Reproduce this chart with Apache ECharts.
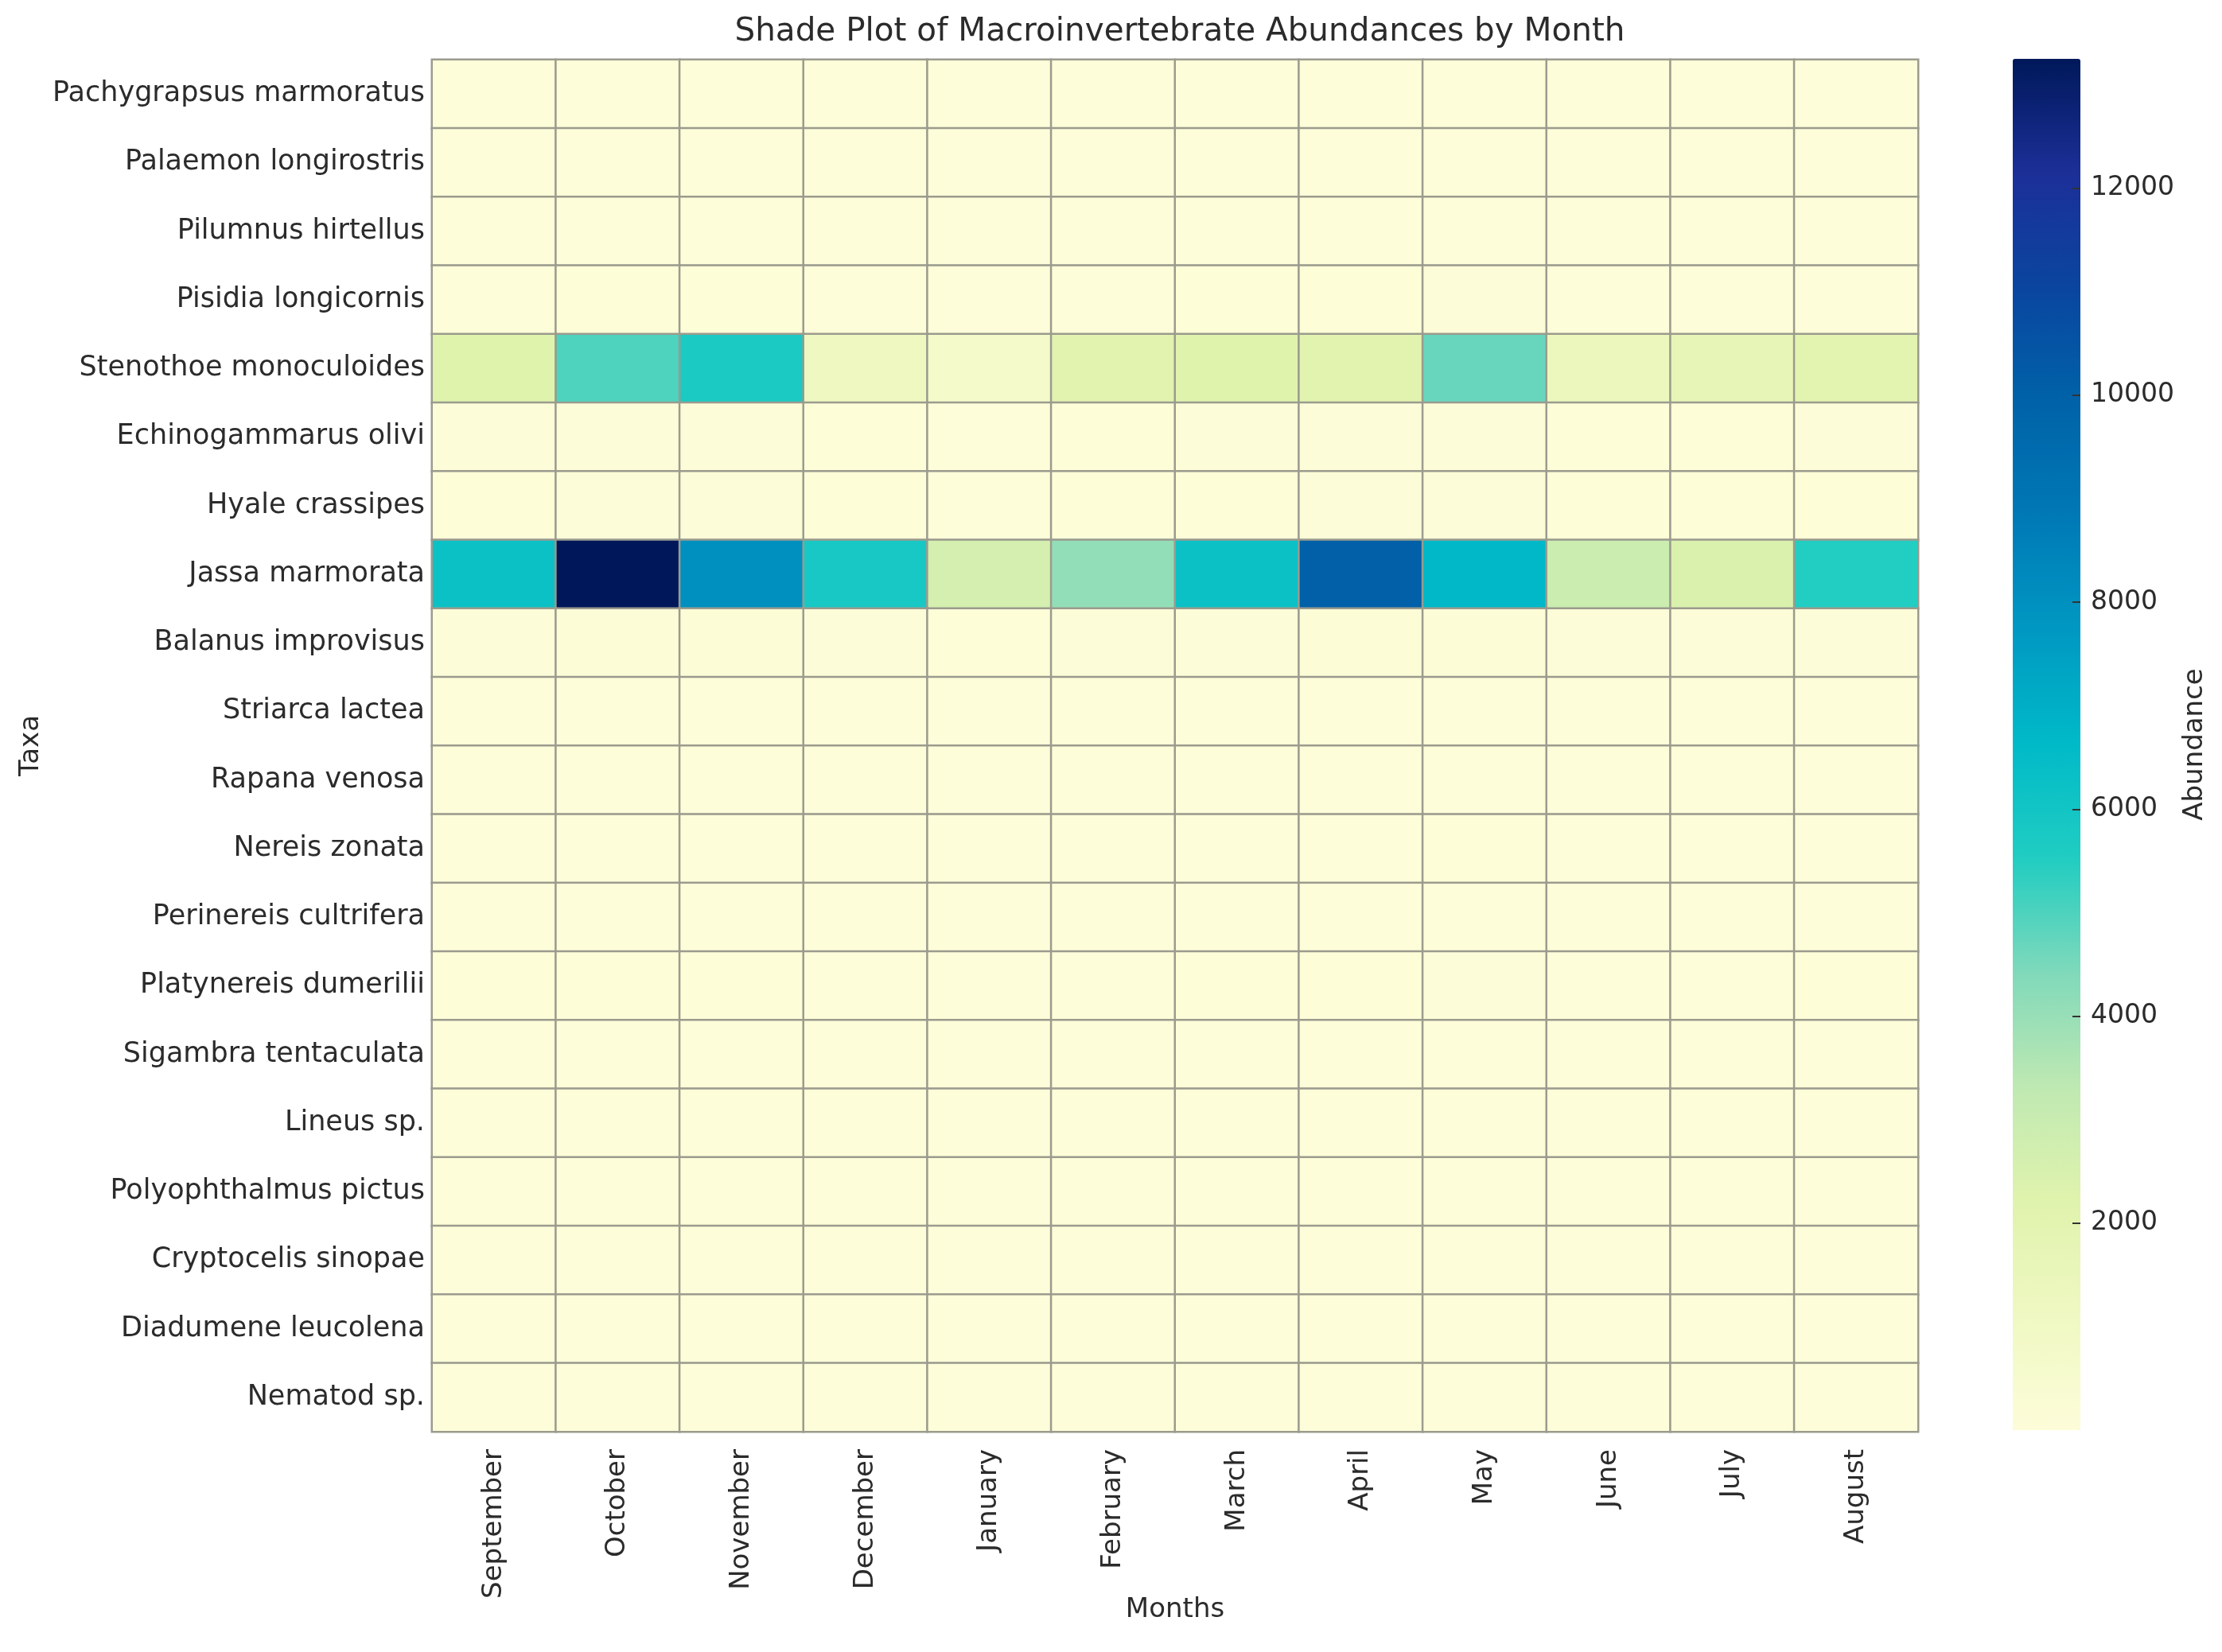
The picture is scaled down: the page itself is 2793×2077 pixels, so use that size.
<!DOCTYPE html>
<html>
<head>
<meta charset="utf-8">
<script src="https://cdn.jsdelivr.net/npm/echarts@6/dist/echarts.min.js"></script>
<style>
html,body{margin:0;padding:0;background:#fff;}
#chart{width:2793px;height:2077px;}
</style>
</head>
<body>
<div id="chart"></div>
<script>
const months = ['September','October','November','December','January','February','March','April','May','June','July','August'];
const taxa = ['Pachygrapsus marmoratus','Palaemon longirostris','Pilumnus hirtellus','Pisidia longicornis','Stenothoe monoculoides','Echinogammarus olivi','Hyale crassipes','Jassa marmorata','Balanus improvisus','Striarca lactea','Rapana venosa','Nereis zonata','Perinereis cultrifera','Platynereis dumerilii','Sigambra tentaculata','Lineus sp.','Polyophthalmus pictus','Cryptocelis sinopae','Diadumene leucolena','Nematod sp.'];

// abundance per taxon, Sept..Aug
const pachygrapsus   = [2, 3, 1, 2, 1, 2, 3, 2, 4, 2, 3, 2];
const palaemon       = [5, 8, 4, 3, 2, 6, 5, 7, 9, 4, 6, 5];
const pilumnus       = [12, 18, 15, 9, 6, 10, 14, 16, 20, 11, 9, 13];
const pisidia        = [20, 35, 28, 15, 10, 18, 25, 30, 40, 22, 19, 24];
const stenothoe      = [2200, 5000, 5700, 1200, 700, 2100, 2250, 2100, 4700, 1400, 1700, 2000];
const echinogammarus = [40, 60, 55, 30, 20, 35, 45, 50, 70, 38, 30, 42];
const hyale          = [30, 50, 45, 25, 15, 28, 35, 40, 55, 30, 26, 33];
const jassa          = [6200, 13250, 8000, 5800, 2600, 4100, 6200, 10000, 6700, 2900, 2400, 5500];
const balanus        = [60, 90, 80, 50, 35, 55, 70, 85, 100, 65, 50, 60];
const striarca       = [8, 12, 10, 6, 4, 7, 9, 11, 14, 8, 6, 9];
const rapana         = [3, 4, 2, 1, 1, 2, 3, 3, 5, 2, 2, 3];
const nereis         = [15, 22, 18, 12, 8, 14, 17, 20, 25, 15, 12, 16];
const perinereis     = [10, 14, 12, 8, 5, 9, 11, 13, 16, 10, 8, 11];
const platynereis    = [25, 38, 30, 18, 12, 22, 28, 34, 42, 24, 20, 26];
const sigambra       = [6, 9, 7, 4, 3, 5, 6, 8, 10, 6, 5, 6];
const lineus         = [4, 6, 5, 3, 2, 4, 5, 5, 7, 4, 3, 4];
const polyophthalmus = [9, 13, 11, 7, 5, 8, 10, 12, 15, 9, 7, 10];
const cryptocelis    = [3, 5, 4, 2, 2, 3, 4, 4, 6, 3, 3, 3];
const diadumene      = [7, 10, 8, 5, 3, 6, 8, 9, 12, 7, 5, 7];
const nematod        = [11, 16, 13, 9, 6, 10, 12, 14, 18, 11, 9, 12];

const colorbarTicks = [2000, 4000, 6000, 8000, 10000, 12000];
const vMin = 0, vMax = 13250;

const rows = [pachygrapsus, palaemon, pilumnus, pisidia, stenothoe, echinogammarus, hyale, jassa, balanus, striarca, rapana, nereis, perinereis, platynereis, sigambra, lineus, polyophthalmus, cryptocelis, diadumene, nematod];

const data = [];
rows.forEach((row, yi) => row.forEach((v, xi) => data.push([xi, yi, v])));

const FONT = 'DejaVu Sans';
const TXT = '#2b2b2b';

const chart = echarts.init(document.getElementById('chart'));
chart.setOption({
  animation: false,
  backgroundColor: '#ffffff',
  textStyle: { fontFamily: FONT },
  title: {
    text: 'Shade Plot of Macroinvertebrate Abundances by Month',
    left: 1478, top: 15, textAlign: 'center',
    textStyle: { fontFamily: FONT, fontSize: 40.5, fontWeight: 'normal', color: TXT }
  },
  grid: [
    { left: 543, top: 75, width: 1868, height: 1725, containLabel: false },
    { left: 2530, top: 74, width: 85, height: 1724, containLabel: false }
  ],
  xAxis: [
    {
      type: 'category', data: months, gridIndex: 0, position: 'bottom',
      axisLine: { show: false },
      axisTick: { show: true, inside: true, alignWithLabel: true, length: 10, lineStyle: { color: '#333', width: 2 } },
      axisLabel: { rotate: 90, margin: 22, fontSize: 34, color: TXT, fontFamily: FONT, interval: 0 },
      splitLine: { show: false },
      name: 'Months', nameLocation: 'middle', nameGap: 207, nameMoveOverlap: false,
      nameTextStyle: { fontSize: 34, color: TXT, fontFamily: FONT }
    },
    { type: 'value', gridIndex: 1, show: false, min: 0, max: 1 }
  ],
  yAxis: [
    {
      type: 'category', data: taxa, gridIndex: 0, inverse: true,
      axisLine: { show: false },
      axisTick: { show: true, inside: true, alignWithLabel: true, length: 10, lineStyle: { color: '#333', width: 2 } },
      axisLabel: { margin: 9, fontSize: 35, color: TXT, fontFamily: FONT, interval: 0 },
      splitLine: { show: false },
      name: 'Taxa', nameLocation: 'middle', nameGap: 487, nameMoveOverlap: false,
      nameTextStyle: { fontSize: 34, color: TXT, fontFamily: FONT }
    },
    {
      type: 'value', gridIndex: 1, position: 'right', min: vMin, max: vMax, interval: 2000, z: 20,
      axisLine: { show: false, onZero: false },
      axisTick: { show: true, inside: true, length: 10, lineStyle: { color: '#333', width: 2 } },
      axisLabel: {
        margin: 13, fontSize: 33, color: TXT, fontFamily: FONT, showMinLabel: false, showMaxLabel: false,
        formatter: v => colorbarTicks.indexOf(v) >= 0 ? String(v) : ''
      },
      splitLine: { show: false },
      name: 'Abundance', nameLocation: 'middle', nameGap: 127, nameMoveOverlap: false,
      nameTextStyle: { fontSize: 34, color: TXT, fontFamily: FONT }
    }
  ],
  visualMap: {
    type: 'continuous', min: vMin, max: vMax, dimension: 2, seriesIndex: 0,
    calculable: false, orient: 'vertical', left: 2530, top: 74, z: 2,
    itemWidth: 85, itemHeight: 1724, padding: 0, text: null, showLabel: false,
    hoverLink: false,
    inRange: {
      color: ['#fdfdd9','#eff8c2','#e0f3ad','#bfe9b2','#80d9ba','#20cdc2','#00bac8','#0098c2','#0079b6','#0062a8','#0a45a0','#1c2f98','#00185a']
    }
  },
  series: [{
    type: 'heatmap', xAxisIndex: 0, yAxisIndex: 0, data: data,
    itemStyle: { borderColor: '#9b9b8e', borderWidth: 2.5 },
    emphasis: { disabled: true },
    label: { show: false }
  }]
});
</script>
</body>
</html>
